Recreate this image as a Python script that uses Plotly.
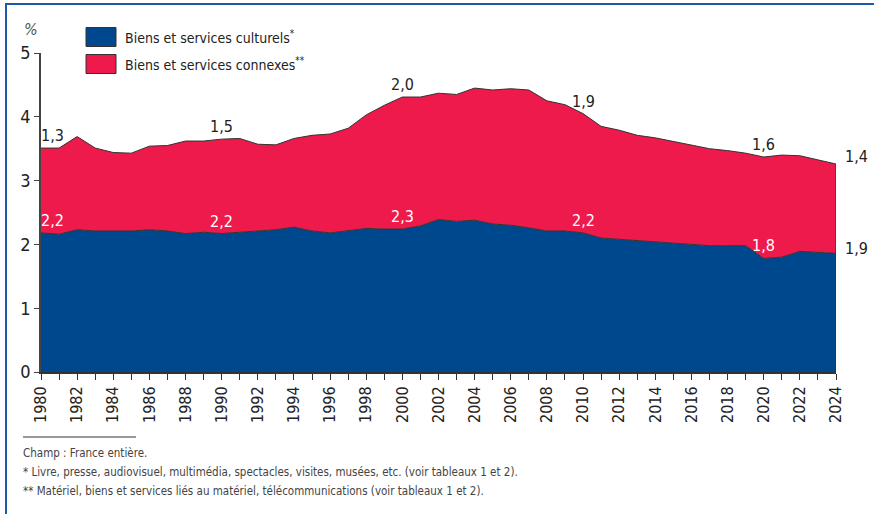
import plotly.graph_objects as go

years = list(range(1980, 2025))
culturels = [2.18, 2.16, 2.23, 2.21, 2.21, 2.21, 2.23, 2.21, 2.17, 2.19,
             2.17, 2.19, 2.21, 2.23, 2.27, 2.21, 2.18, 2.21, 2.25, 2.24,
             2.24, 2.29, 2.39, 2.36, 2.38, 2.32, 2.30, 2.26, 2.21, 2.21,
             2.18, 2.10, 2.08, 2.06, 2.04, 2.02, 1.99, 1.98, 1.98, 1.98,
             1.78, 1.80, 1.89, 1.88, 1.86]
totaux = [3.51, 3.51, 3.69, 3.51, 3.44, 3.43, 3.54, 3.55, 3.62, 3.62,
          3.65, 3.66, 3.57, 3.56, 3.66, 3.71, 3.73, 3.82, 4.03, 4.18,
          4.31, 4.31, 4.37, 4.35, 4.45, 4.42, 4.44, 4.42, 4.25, 4.19,
          4.05, 3.85, 3.79, 3.71, 3.67, 3.61, 3.56, 3.50, 3.47, 3.43,
          3.37, 3.40, 3.39, 3.32, 3.26]
connexes = [round(t - c, 3) for t, c in zip(totaux, culturels)]

label_years = [1980, 1990, 2000, 2010, 2020, 2024]
label_culturels = ["2,2", "2,2", "2,3", "2,2", "1,8", "1,9"]
label_connexes = ["1,3", "1,5", "2,0", "1,9", "1,6", "1,4"]

legend_names = ["Biens et services culturels<sup>*</sup>",
                "Biens et services connexes<sup>**</sup>"]
footnotes = ["Champ : France entière.",
             "* Livre, presse, audiovisuel, multimédia, spectacles, visites, musées, etc. (voir tableaux 1 et 2).",
             "** Matériel, biens et services liés au matériel, télécommunications (voir tableaux 1 et 2)."]

BLUE = "#00488d"
RED = "#ed1a4b"
EDGE = "#333333"
FONT = "Liberation Sans Narrow, DejaVu Sans Condensed, Roboto Condensed, Arial Narrow, Liberation Sans, sans-serif"

fig = go.Figure()
fig.add_trace(go.Scatter(x=years, y=culturels, stackgroup="s", mode="lines",
                         line=dict(color=EDGE, width=1), fillcolor=BLUE,
                         name=legend_names[0], hoverinfo="skip"))
fig.add_trace(go.Scatter(x=years, y=connexes, stackgroup="s", mode="lines",
                         line=dict(color=EDGE, width=1), fillcolor=RED,
                         name=legend_names[1], hoverinfo="skip"))
# right edge of the stacked area
fig.add_trace(go.Scatter(x=[years[-1], years[-1]], y=[0, totaux[-1]], mode="lines",
                         line=dict(color=EDGE, width=1.2), hoverinfo="skip"))

W, H = 874, 514
L, R, T, B = 41, 38, 53, 142
pw, ph = W - L - R, H - T - B

def px(x):
    return (x - L) / pw

def py(y):
    return (H - B - y) / ph

annotations = []
for i, yr in enumerate(label_years):
    idx = years.index(yr)
    last = yr == years[-1]
    xsh = 11 if yr == years[0] else (7 if last else 0)
    xa = "left" if last else "center"
    annotations.append(dict(x=yr, y=totaux[idx], text=label_connexes[i],
                            showarrow=False, xanchor=xa, yanchor="bottom",
                            xshift=xsh, yshift=1 if not last else -4,
                            font=dict(family=FONT, size=16, color="#222")))
    annotations.append(dict(x=yr, y=culturels[idx], text=label_culturels[i],
                            showarrow=False, xanchor=xa, yanchor="bottom",
                            xshift=xsh, yshift=1 if not last else -7,
                            font=dict(family=FONT, size=16,
                                      color="#222" if last else "white")))

annotations.append(dict(xref="paper", yref="paper", x=px(22), y=py(30), text="<i>%</i>",
                        showarrow=False, xanchor="left", yanchor="middle",
                        font=dict(family=FONT, size=16, color="#555")))

shapes = []
# legend swatches
for j, (col, yc) in enumerate([(BLUE, 37), (RED, 64)]):
    shapes.append(dict(type="rect", xref="paper", yref="paper",
                       x0=px(86), x1=px(116), y0=py(yc - 9.5), y1=py(yc + 9.5),
                       fillcolor=col, line=dict(color=EDGE, width=1)))
    annotations.append(dict(xref="paper", yref="paper", x=px(123), y=py(yc),
                            text=legend_names[j], showarrow=False,
                            xanchor="left", yanchor="middle",
                            font=dict(family=FONT, size=14, color="#222")))

# footnotes
shapes.append(dict(type="line", xref="paper", yref="paper",
                   x0=px(23), x1=px(136), y0=py(437), y1=py(437),
                   line=dict(color="#333", width=1)))
for k, t in enumerate(footnotes):
    annotations.append(dict(xref="paper", yref="paper", x=px(21), y=py(453 + 19 * k),
                            text=t, showarrow=False, xanchor="left", yanchor="middle",
                            font=dict(family=FONT, size=11.5, color="#444")))

# blue frame (top and left)
shapes.append(dict(type="line", xref="paper", yref="paper",
                   x0=px(5), x1=px(874), y0=py(4), y1=py(4),
                   line=dict(color="#1a5aa6", width=2)))
shapes.append(dict(type="line", xref="paper", yref="paper",
                   x0=px(6), x1=px(6), y0=py(3), y1=py(514),
                   line=dict(color="#1a5aa6", width=2)))

fig.update_layout(
    width=W, height=H,
    margin=dict(l=L, r=R, t=T, b=B),
    paper_bgcolor="white", plot_bgcolor="white",
    showlegend=False,
    font=dict(family=FONT, color="#222"),
    annotations=annotations, shapes=shapes,
    xaxis=dict(range=[years[0], years[-1]], tick0=years[0], dtick=2,
               tickangle=-90, ticks="outside", ticklen=6, tickwidth=1, tickcolor="#333",
               minor=dict(dtick=1, ticks="outside", ticklen=6, tickwidth=1, tickcolor="#333"),
               showline=True, linecolor="#333", linewidth=2, showgrid=False, zeroline=False,
               tickfont=dict(family=FONT, size=16, color="#222")),
    yaxis=dict(range=[0, 5], tickvals=[0, 1, 2, 3, 4, 5], ticks="outside", ticklen=5,
               tickcolor="#444", showline=True, linecolor="#444", linewidth=1.5,
               showgrid=False, zeroline=False,
               tickfont=dict(family=FONT, size=18, color="#222")),
)

fig.write_html("out.html", config={"displayModeBar": False},
               post_script="document.body.style.margin='0';document.body.style.padding='0';")
